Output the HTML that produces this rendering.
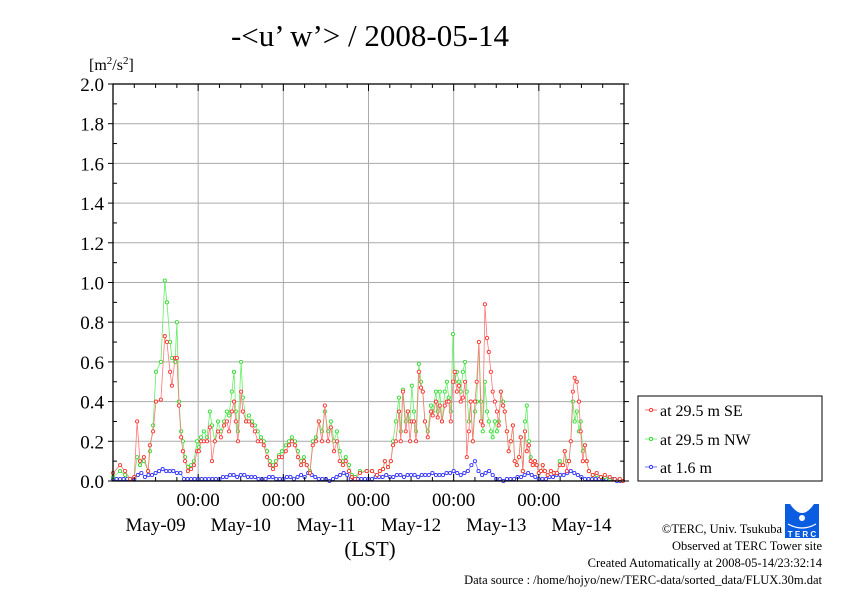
<!DOCTYPE html>
<html><head><meta charset="utf-8"><style>
body{margin:0;background:#fff;}
svg{display:block;font-family:"Liberation Serif",serif;}
</style></head><body>
<svg id="chart" width="842" height="595" viewBox="0 0 842 595" xmlns="http://www.w3.org/2000/svg">
<text x="370" y="46" font-size="31" text-anchor="middle">-&lt;u’ w’&gt; / 2008-05-14</text>
<text x="89" y="70" font-size="16">[m<tspan font-size="11" dy="-6">2</tspan><tspan dy="6">/s</tspan><tspan font-size="11" dy="-6">2</tspan><tspan dy="6">]</tspan></text>
<g id="grid"></g><g id="series"></g><g id="axes"></g>
<text x="370" y="556" font-size="21" text-anchor="middle">(LST)</text>
<g>
<rect x="638" y="396" width="184" height="85" fill="#fff" stroke="#000" stroke-width="1"/>
<g><line x1="645" y1="410" x2="657" y2="410" stroke="#f55" stroke-width="0.8"/><circle cx="651" cy="410" r="1.6" fill="#fff" stroke="#f33"/><text x="660" y="416" font-size="16">at 29.5 m SE</text></g>
<g><line x1="645" y1="439" x2="657" y2="439" stroke="#5e5" stroke-width="0.8"/><circle cx="651" cy="439" r="1.6" fill="#fff" stroke="#3d3"/><text x="660" y="445" font-size="16">at 29.5 m NW</text></g>
<g><line x1="645" y1="467" x2="657" y2="467" stroke="#55f" stroke-width="0.8"/><circle cx="651" cy="467" r="1.6" fill="#fff" stroke="#33f"/><text x="660" y="473" font-size="16">at 1.6 m</text></g>
</g>
<g>
<rect x="785" y="504" width="34" height="34" fill="#0a5de0"/>
<path d="M790 504 Q802 522 814 504 Z" fill="#fff"/>
<circle cx="802" cy="518" r="3" fill="#fff"/>
<path d="M788 524 Q802 532 816 524" stroke="#fff" fill="none" stroke-width="1.2"/>
<text x="802" y="537" font-size="8" fill="#fff" text-anchor="middle" font-family="Liberation Sans,sans-serif" font-weight="bold">T E R C</text>
</g>
<g font-size="12.5" text-anchor="end">
<text x="782" y="533">©TERC, Univ. Tsukuba</text>
<text x="822" y="550">Observed at TERC Tower site</text>
<text x="822" y="567">Created Automatically at 2008-05-14/23:32:14</text>
<text x="822" y="584">Data source : /home/hojyo/new/TERC-data/sorted_data/FLUX.30m.dat</text>
</g>
</svg>
<script>
const hoursSN=[0,2,3.4,4.8,6,6.8,7.6,8.7,9.9,10.4,11.3,12.1,13.5,14.6,15.2,16.1,16.6,17.5,18,18.6,19.2,19.7,20.3,21.1,22,22.8,23.7,24.2,
24.8,25.6,26.5,27.3,27.9,28.7,29.6,30.4,31.3,32.1,32.7,33.5,34.1,34.6,35.2,36.1,36.6,37.5,38.3,39.2,40,40.8,41.7,42.5,43.4,44.2,45.1,45.9,46.8,47.6,
48.7,49.6,50.4,51.3,52.1,53,53.8,54.6,55.5,56.3,57.2,58,58.9,59.7,60.6,61.4,62.3,63.1,63.9,64.8,65.6,66.5,67.3,68.2,69.6,71.5,
73,74.4,75.2,76.1,76.6,77.5,78.3,78.9,79.7,80.6,81.1,81.7,82.5,83.1,83.7,84.2,84.8,85.4,86.2,86.8,87.3,87.9,88.7,89.6,90.1,91,91.5,92.1,92.7,93.5,94.1,94.6,95.2,95.8,
96.3,96.9,97.5,98,98.6,99.2,99.7,100.3,100.8,101.4,102,102.5,103.1,103.7,104.2,104.8,105.4,105.9,106.5,107,107.6,108.2,108.7,109.3,109.9,110.4,111,111.5,112.1,112.7,113.2,113.8,114.4,114.9,115.5,116.1,116.6,117.2,117.7,118.3,118.9,119.4,
120,120.6,121.1,121.7,122.5,123.4,124.2,125.1,125.9,126.8,127.3,127.9,128.5,129,129.6,130.1,130.7,131.3,131.8,132.4,133,133.5,134.1,135.2,136.3,137.5,138.6,140,141.4,142.8,143.7];
const seVals=[0.04,0.08,0.05,0.01,0.02,0.30,0.1,0.12,0.05,0.18,0.25,0.4,0.41,0.73,0.7,0.55,0.48,0.62,0.62,0.38,0.22,0.15,0.1,0.05,0.06,0.08,0.15,0.15,
0.2,0.2,0.2,0.27,0.1,0.2,0.25,0.22,0.28,0.3,0.25,0.35,0.4,0.3,0.2,0.45,0.35,0.3,0.3,0.28,0.25,0.2,0.2,0.18,0.12,0.08,0.06,0.08,0.12,0.12,
0.15,0.18,0.2,0.18,0.12,0.08,0.1,0.08,0.04,0.18,0.2,0.3,0.2,0.38,0.2,0.27,0.15,0.2,0.1,0.08,0.1,0.05,0.02,0.01,0.04,0.05,
0.05,0.03,0.05,0.06,0.1,0.07,0.1,0.18,0.2,0.35,0.2,0.45,0.25,0.35,0.2,0.3,0.3,0.2,0.55,0.47,0.45,0.3,0.22,0.35,0.33,0.4,0.32,0.38,0.3,0.38,0.4,0.4,0.3,0.5,
0.55,0.45,0.48,0.4,0.42,0.5,0.12,0.25,0.4,0.2,0.4,0.5,0.7,0.3,0.28,0.89,0.72,0.65,0.55,0.45,0.4,0.35,0.28,0.45,0.38,0.35,0.25,0.15,0.2,0.28,0.1,0.08,0.12,0.22,0.05,0.25,0.15,0.18,0.1,0.08,0.1,0.08,
0.04,0.05,0.08,0.05,0.03,0.05,0.04,0.04,0.08,0.08,0.15,0.05,0.1,0.2,0.45,0.52,0.5,0.4,0.25,0.1,0.18,0.1,0.05,0.03,0.04,0.02,0.03,0.02,0.01,0.01,0.0];
const nwVals=[0.02,0.05,0.03,0.01,0.02,0.12,0.08,0.1,0.05,0.15,0.28,0.55,0.6,1.01,0.9,0.7,0.62,0.6,0.8,0.4,0.25,0.2,0.12,0.07,0.08,0.1,0.2,0.17,
0.22,0.25,0.22,0.35,0.28,0.2,0.3,0.25,0.3,0.35,0.33,0.45,0.55,0.35,0.25,0.6,0.42,0.3,0.33,0.3,0.28,0.25,0.22,0.2,0.15,0.1,0.08,0.1,0.13,0.15,
0.18,0.2,0.22,0.2,0.15,0.1,0.12,0.08,0.05,0.2,0.22,0.3,0.25,0.35,0.25,0.3,0.2,0.25,0.15,0.1,0.12,0.08,0.03,0.02,0.05,0.05,
0.05,0.03,0.05,0.06,0.1,0.07,0.1,0.2,0.3,0.42,0.25,0.46,0.3,0.35,0.3,0.48,0.35,0.25,0.59,0.5,0.45,0.3,0.25,0.38,0.35,0.45,0.35,0.45,0.3,0.45,0.5,0.42,0.35,0.74,
0.5,0.55,0.5,0.45,0.55,0.6,0.45,0.3,0.4,0.2,0.35,0.4,0.7,0.4,0.25,0.5,0.35,0.3,0.25,0.22,0.3,0.25,0.3,0.45,0.4,0.35,0.25,0.15,0.2,0.28,0.1,0.08,0.12,0.22,0.05,0.3,0.38,0.2,0.12,0.08,0.1,0.08,
0.04,0.05,0.08,0.05,0.03,0.05,0.04,0.04,0.1,0.08,0.15,0.1,0.1,0.2,0.4,0.3,0.35,0.25,0.3,0.15,0.18,0.1,0.05,0.03,0.03,0.02,0.02,0.01,0.01,0.01,0.0];
const lowVals=[0.01,0.01,0.01,0.01,0.01,0.01,0.01,0.03,0.04,0.02,0.03,0.03,0.04,0.05,0.06,0.05,0.05,0.05,0.04,0.04,
0.01,0.01,0.01,0.01,0.01,0.01,0.01,0.01,0.01,0.01,0.01,0.02,0.02,0.03,0.03,0.02,0.03,0.03,0.02,0.02,0.02,
0.01,0.01,0.01,0.02,0.02,0.01,0.01,0.01,0.02,0.02,0.01,0.02,0.03,0.02,0.04,0.03,0.02,0.01,0.01,0.01,
0.0,0.01,0.02,0.03,0.04,0.03,0.01,0.01,0.01,0.01,0.01,0.01,
0.01,0.02,0.02,0.02,0.03,0.02,0.02,0.03,0.03,0.02,0.03,0.03,0.03,0.02,0.03,0.03,0.03,0.04,0.03,0.03,0.03,0.04,0.04,0.05,
0.04,0.03,0.04,0.05,0.08,0.1,0.05,0.03,0.04,0.05,0.03,0.01,
0.01,0.0,0.01,0.01,0.01,0.02,0.02,0.03,0.04,0.03,0.02,0.01,
0.01,0.01,0.02,0.02,0.03,0.03,0.03,0.04,0.05,0.04,0.03,0.02,
0.01,0.01,0.01,0.01,0.01,0.01,0.01,0.01,0.01,0.0,0.0];
const yTickLabels=["0.0","0.2","0.4","0.6","0.8","1.0","1.2","1.4","1.6","1.8","2.0"];
const dayLabels=["May-09","May-10","May-11","May-12","May-13","May-14"];
const midnightLabels=["00:00","00:00","00:00","00:00","00:00"];

const NS="http://www.w3.org/2000/svg";
const L=113,R=624,T=84,B=481;
const xS=h=>L+h/144*(R-L);
const yS=v=>B-v/2*(B-T);
function mk(tag,attrs,parent){const e=document.createElementNS(NS,tag);for(const k in attrs)e.setAttribute(k,attrs[k]);parent.appendChild(e);return e;}
const grid=document.getElementById('grid'),axes=document.getElementById('axes'),ser=document.getElementById('series');
yTickLabels.forEach((lab,i)=>{
  const v=i*0.2,y=yS(v);
  if(i>0&&i<10){const g=mk('line',{x1:L,x2:R,y1:y,y2:y,stroke:'#aaa','stroke-width':1},grid);
  
  }
  const t=mk('text',{x:104,y:y+7,'font-size':19,'text-anchor':'end'},axes);t.textContent=lab;
  
  
  mk('line',{x1:L-5,x2:L,y1:y,y2:y,stroke:'#000'},axes);
  mk('line',{x1:R,x2:R+5,y1:y,y2:y,stroke:'#000'},axes);
  if(i<10){const ym=yS(v+0.1);mk('line',{x1:L,x2:L+4,y1:ym,y2:ym,stroke:'#000'},axes);mk('line',{x1:R-4,x2:R,y1:ym,y2:ym,stroke:'#000'},axes);}
});
midnightLabels.forEach((lab,i)=>{
  const x=xS((i+1)*24);
  const g=mk('line',{x1:x,x2:x,y1:T,y2:B,stroke:'#aaa','stroke-width':1},grid);
  
  
  const t=mk('text',{x:x,y:506,'font-size':19,'text-anchor':'middle'},axes);t.textContent=lab;
  
  
});
for(let h=6;h<144;h+=6){const x=xS(h),len=h%24==0?7:4;mk('line',{x1:x,x2:x,y1:T,y2:T+len,stroke:'#000'},axes);mk('line',{x1:x,x2:x,y1:B-len,y2:B,stroke:'#000'},axes);}
dayLabels.forEach((lab,i)=>{
  const t=mk('text',{x:xS(i*24+12),y:531,'font-size':19,'text-anchor':'middle'},axes);t.textContent=lab;
  
  
});
const frame=mk('rect',{x:L,y:T,width:R-L,height:B-T,fill:'none',stroke:'#000','stroke-width':1.3},axes);


function drawSeries(hrs,vals,line,mark,name){
  const g=mk('g',{},ser);
  
  
  const pts=vals.map((v,i)=>xS(hrs[i]).toFixed(1)+','+yS(v).toFixed(1)).join(' ');
  mk('polyline',{points:pts,fill:'none',stroke:line,'stroke-width':0.8},g);
  vals.forEach((v,i)=>{mk('circle',{cx:xS(hrs[i]),cy:yS(v),r:1.6,fill:'#fff',stroke:mark,'stroke-width':0.9},g);});
}
const hoursLow=lowVals.map((v,i)=>i);
drawSeries(hoursLow,lowVals,'#77f','#33f','series-1p6m');
drawSeries(hoursSN,nwVals,'#6e6','#3d3','series-nw');
drawSeries(hoursSN,seVals,'#f77','#f33','series-se');
</script>
</body></html>
